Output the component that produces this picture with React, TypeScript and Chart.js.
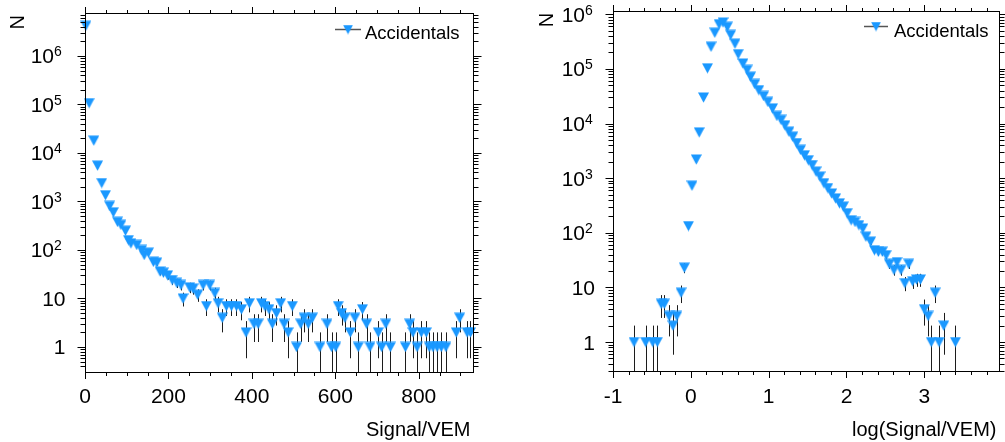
import React, { useEffect, useRef } from 'react';
import { Chart, registerables } from 'chart.js';

Chart.register(...registerables);

// ---------------- Data ----------------
const leftSignal: number[] = [
  2, 10, 21, 30, 40, 49, 59, 68, 78, 86, 97, 104, 110, 124, 136, 142, 152, 164, 172, 180,
  188, 198, 209, 220, 230, 235, 251, 259, 270, 283, 291, 299, 311, 319, 329, 339, 351, 363, 375, 386,
  394, 405, 415, 423, 431, 441, 449, 459, 469, 477, 487, 497, 507, 517, 525, 535, 545, 563, 580, 591,
  601, 607, 615, 623, 636, 647, 655, 665, 675, 683, 703, 711, 721, 732, 768, 778, 786, 796, 806, 818,
  825, 834, 844, 854, 865, 890, 898, 916, 924,
];
const leftCounts: number[] = [
  4200000, 107000, 18000, 5500, 2400, 1350, 810, 600, 380, 330, 250, 160, 137, 127, 100, 79, 88, 57, 55, 36,
  34, 30, 24, 21, 19, 10, 17, 16, 12, 19, 7, 19, 13, 8, 4, 7, 7, 7, 6, 2,
  8, 3, 3, 8, 7, 6, 3, 5, 8, 3, 2, 7, 1, 3, 4, 3, 4, 1, 3, 1,
  1, 7, 5, 4, 2, 4, 1, 6, 3, 1, 2, 1, 3, 1, 1, 3, 2, 1, 2, 2,
  1, 1, 1, 1, 1, 2, 4, 2, 2,
];

const rightLogSignal: number[] = [
  -0.73, -0.58, -0.49, -0.43, -0.38, -0.34, -0.28, -0.23, -0.18, -0.125, -0.083, -0.03,
  0.015, 0.07, 0.108, 0.163, 0.214, 0.26, 0.308, 0.363, 0.414, 0.469, 0.512, 0.567, 0.609, 0.669,
  0.724, 0.767, 0.822, 0.873, 0.936, 0.99, 1.05, 1.106, 1.16, 1.21, 1.26, 1.31, 1.36, 1.41,
  1.46, 1.51, 1.56, 1.61, 1.66, 1.71, 1.76, 1.81, 1.86, 1.91, 1.96, 2.01, 2.06, 2.11, 2.16, 2.21,
  2.25, 2.31, 2.36, 2.41, 2.46, 2.51, 2.55, 2.61, 2.65, 2.70, 2.75, 2.80, 2.85, 2.90, 2.95,
  3.00, 3.05, 3.09, 3.14, 3.19, 3.25, 3.40,
];
const rightCounts: number[] = [
  1, 1, 1, 1, 5, 5, 3, 2, 3, 8, 23, 133,
  730, 2200, 6900, 30000, 103000, 255000, 460000, 660000, 710000, 590000, 420000, 290000, 187000, 126000,
  96000, 72000, 53000, 41000, 32000, 25000, 19000, 13800, 11700, 9300, 7100, 5750, 4400, 3300,
  2630, 2140, 1740, 1320, 1070, 810, 660, 525, 427, 347, 302, 229, 170, 158, 138, 120,
  85, 69, 48, 45, 45, 39, 27, 21, 29, 21, 12, 27, 13, 14, 14,
  4, 3, 1, 8, 1, 2, 1,
];

const leftXTicks: number[] = [0, 200, 400, 600, 800];
const leftXTickLabels: string[] = ['0', '200', '400', '600', '800'];
const rightXTicks: number[] = [-1, 0, 1, 2, 3];
const rightXTickLabels: string[] = ['-1', '0', '1', '2', '3'];
const seriesLabel = 'Accidentals';
const leftXTitle = 'Signal/VEM';
const rightXTitle = 'log(Signal/VEM)';
const yTitle = 'N';

// ---------------- Styling ----------------
const BLUE = '#1a98ff';
const FONT = '"Liberation Sans", Arial, Helvetica, sans-serif';

type PanelCfg = {
  left: number;
  width: number;
  height: number;
  padding: { left: number; top: number; right: number; bottom: number };
  xMin: number;
  xMax: number;
  yMin: number;
  yMax: number;
  xs: number[];
  ns: number[];
  xMajor: number[];
  xMajorLabels: string[];
  xMinorStart: number;
  xMinorStep: number;
  xTitle: string;
  yPlainGap: number;
  yExpGap: number;
  nPos: [number, number];
  legend: { x1: number; x2: number; my: number; tx: number; ty: number };
};

const leftPanel: PanelCfg = {
  left: 0,
  width: 500,
  height: 442,
  padding: { left: 85, top: 13, right: 27, bottom: 70 },
  xMin: 0,
  xMax: 930,
  yMin: 0.305,
  yMax: 7.7e6,
  xs: leftSignal,
  ns: leftCounts,
  xMajor: leftXTicks,
  xMajorLabels: leftXTickLabels,
  xMinorStart: 0,
  xMinorStep: 50,
  xTitle: leftXTitle,
  yPlainGap: 20,
  yExpGap: 31.5,
  nPos: [24, 15],
  legend: { x1: 335, x2: 361, my: 29.5, tx: 365, ty: 39 },
};

const rightPanel: PanelCfg = {
  left: 500,
  width: 505,
  height: 442,
  padding: { left: 113, top: 11, right: 3, bottom: 71 },
  xMin: -1,
  xMax: 3.96,
  yMin: 0.295,
  yMax: 1.15e6,
  xs: rightLogSignal,
  ns: rightCounts,
  xMajor: rightXTicks,
  xMajorLabels: rightXTickLabels,
  xMinorStart: -1,
  xMinorStep: 0.2,
  xTitle: rightXTitle,
  yPlainGap: 18.5,
  yExpGap: 28.5,
  nPos: [52.7, 12.7],
  legend: { x1: 364, x2: 388, my: 26.5, tx: 394, ty: 36.5 },
};

function makeMarker(): HTMLCanvasElement {
  const c = document.createElement('canvas');
  c.width = 11;
  c.height = 11;
  const g = c.getContext('2d')!;
  g.fillStyle = BLUE;
  g.beginPath();
  g.moveTo(0, 0.5);
  g.lineTo(11, 0.5);
  g.lineTo(5.5, 10.7);
  g.closePath();
  g.fill();
  return c;
}

function rootPlugin(cfg: PanelCfg, marker: HTMLCanvasElement) {
  return {
    id: 'rootFrame',
    beforeDatasetsDraw(chart: any) {
      const ctx: CanvasRenderingContext2D = chart.ctx;
      const ca = chart.chartArea;
      const xs = chart.scales.x;
      const ys = chart.scales.y;
      const pts = chart.data.datasets[0].data as { x: number; y: number }[];
      ctx.save();
      ctx.beginPath();
      ctx.rect(ca.left, ca.top, ca.right - ca.left, ca.bottom - ca.top);
      ctx.clip();
      ctx.strokeStyle = '#1c1c1c';
      ctx.lineWidth = 1;
      ctx.beginPath();
      pts.forEach((p) => {
        const n = p.y;
        const e = Math.sqrt(n);
        const px = Math.round(xs.getPixelForValue(p.x)) + 0.5;
        const lo = n - e > 1e-9 ? ys.getPixelForValue(n - e) : ca.bottom + 2;
        const hi = ys.getPixelForValue(n + e);
        ctx.moveTo(px, lo);
        ctx.lineTo(px, hi);
      });
      ctx.stroke();
      ctx.restore();
    },
    afterDraw(chart: any) {
      const ctx: CanvasRenderingContext2D = chart.ctx;
      const ca = chart.chartArea;
      const xs = chart.scales.x;
      const ys = chart.scales.y;
      const L = Math.round(ca.left) + 0.5;
      const R = Math.round(ca.right) + 0.5;
      const T = Math.round(ca.top) + 0.5;
      const B = Math.round(ca.bottom) + 0.5;
      ctx.save();
      ctx.strokeStyle = '#000';
      ctx.lineWidth = 1;
      ctx.strokeRect(L, T, R - L, B - T);

      ctx.beginPath();
      // x ticks (bottom & top, outward)
      const nMinor = Math.floor((xs.max - cfg.xMinorStart) / cfg.xMinorStep + 1e-6);
      for (let i = 0; i <= nMinor; i++) {
        const v = cfg.xMinorStart + i * cfg.xMinorStep;
        const px = Math.round(xs.getPixelForValue(v)) + 0.5;
        const major = cfg.xMajor.some((m) => Math.abs(m - v) < 1e-6);
        const len = major ? 6.5 : 3.5;
        ctx.moveTo(px, B);
        ctx.lineTo(px, B + len);
        ctx.moveTo(px, T);
        ctx.lineTo(px, T - len);
      }
      // y ticks (left & right, outward), log minor ticks
      const dMin = Math.floor(Math.log10(ys.min));
      const dMax = Math.ceil(Math.log10(ys.max));
      for (let d = dMin; d <= dMax; d++) {
        for (let m = 1; m <= 9; m++) {
          const v = m * Math.pow(10, d);
          if (v < ys.min || v > ys.max) continue;
          const py = Math.round(ys.getPixelForValue(v)) + 0.5;
          const len = m === 1 ? 8 : 5;
          ctx.moveTo(L, py);
          ctx.lineTo(L - len, py);
          ctx.moveTo(R, py);
          ctx.lineTo(R + len, py);
        }
      }
      ctx.stroke();

      // x tick labels
      ctx.fillStyle = '#000';
      ctx.font = `21px ${FONT}`;
      ctx.textAlign = 'center';
      ctx.textBaseline = 'alphabetic';
      cfg.xMajor.forEach((v, i) => {
        ctx.fillText(cfg.xMajorLabels[i], xs.getPixelForValue(v), 402.5);
      });

      // y tick labels (powers of ten)
      for (let d = dMin; d <= dMax; d++) {
        const v = Math.pow(10, d);
        if (v < ys.min || v > ys.max) continue;
        const py = ys.getPixelForValue(v);
        ctx.font = `21px ${FONT}`;
        ctx.textBaseline = 'alphabetic';
        if (d <= 1) {
          ctx.textAlign = 'right';
          ctx.fillText(d === 0 ? '1' : '10', L - cfg.yPlainGap, py + 7.5);
        } else {
          ctx.textAlign = 'right';
          ctx.fillText('10', L - cfg.yExpGap, py + 7.5);
          ctx.font = `14px ${FONT}`;
          ctx.textAlign = 'left';
          ctx.fillText(String(d), L - cfg.yExpGap, py + 0.5);
        }
      }

      // axis titles
      ctx.font = `20px ${FONT}`;
      ctx.textAlign = 'right';
      ctx.textBaseline = 'alphabetic';
      ctx.fillText(cfg.xTitle, R - 3, 436);

      ctx.save();
      ctx.translate(cfg.nPos[0], cfg.nPos[1]);
      ctx.rotate(-Math.PI / 2);
      ctx.textAlign = 'right';
      ctx.fillText(yTitle, 0, 0);
      ctx.restore();

      // legend
      const lg = cfg.legend;
      ctx.strokeStyle = '#555';
      ctx.lineWidth = 1.5;
      ctx.beginPath();
      ctx.moveTo(lg.x1, lg.my);
      ctx.lineTo(lg.x2, lg.my);
      ctx.stroke();
      const mx = (lg.x1 + lg.x2) / 2;
      ctx.drawImage(marker, mx - 5, lg.my - 5, 10, 10);
      ctx.font = `18.5px ${FONT}`;
      ctx.textAlign = 'left';
      ctx.fillStyle = '#000';
      ctx.fillText(chart.data.datasets[0].label, lg.tx, lg.ty);
      ctx.restore();
    },
  };
}

function Panel({ cfg }: { cfg: PanelCfg }) {
  const ref = useRef<HTMLCanvasElement | null>(null);
  useEffect(() => {
    const canvas = ref.current;
    if (!canvas) return;
    const marker = makeMarker();
    const chart = new Chart(canvas, {
      type: 'scatter',
      data: {
        datasets: [
          {
            label: seriesLabel,
            data: cfg.xs.map((x, i) => ({ x, y: cfg.ns[i] })),
            pointStyle: marker as any,
            pointRadius: 5,
            pointHoverRadius: 5,
            backgroundColor: BLUE,
            borderColor: BLUE,
            showLine: false,
            clip: false as any,
          },
        ],
      },
      options: {
        responsive: false,
        animation: false,
        devicePixelRatio: 1,
        events: [],
        layout: { padding: cfg.padding },
        scales: {
          x: { type: 'linear', min: cfg.xMin, max: cfg.xMax, display: false, bounds: 'data' },
          y: { type: 'logarithmic', min: cfg.yMin, max: cfg.yMax, display: false, bounds: 'data' },
        },
        plugins: {
          legend: { display: false },
          tooltip: { enabled: false },
          title: { display: false },
        },
      } as any,
      plugins: [rootPlugin(cfg, marker)],
    });
    return () => chart.destroy();
  }, [cfg]);
  return (
    <canvas
      ref={ref}
      width={cfg.width}
      height={cfg.height}
      style={{ position: 'absolute', left: cfg.left, top: 0, width: cfg.width, height: cfg.height }}
    />
  );
}

export default function App() {
  return (
    <div
      style={{
        position: 'absolute',
        left: 0,
        top: 0,
        width: 1005,
        height: 442,
        background: '#fff',
        overflow: 'hidden',
      }}
    >
      <Panel cfg={leftPanel} />
      <Panel cfg={rightPanel} />
    </div>
  );
}
